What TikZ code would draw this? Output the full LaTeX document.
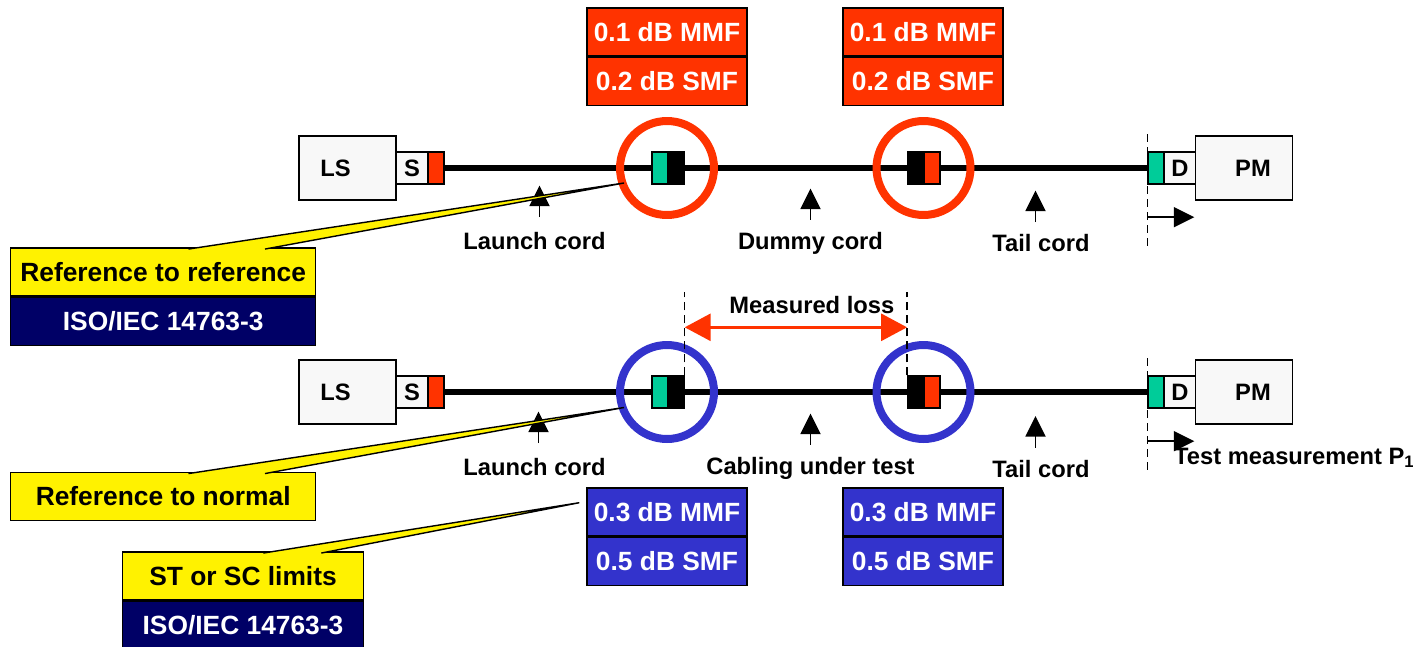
\documentclass[tikz,border=0pt]{standalone}
\usepackage{fontspec}
\setmainfont{Liberation Sans}
\usepackage{xcolor}
\usetikzlibrary{arrows.meta,positioning}

\definecolor{plugred}{HTML}{FF3300}
\definecolor{pluggreen}{HTML}{00CC99}
\definecolor{ringblue}{HTML}{3333CC}
\definecolor{isonavy}{HTML}{000066}
\definecolor{boxgray}{HTML}{F8F8F8}
\newcommand{\lblfont}{\fontsize{13.5}{16}\selectfont\bfseries}
\newcommand{\tagfont}{\fontsize{15}{18}\selectfont\bfseries}

\begin{document}
\begin{tikzpicture}[x=0.02cm, y=-0.02cm,
        unitbox/.style={draw, fill=boxgray, line width=0.8pt, minimum width=1.94cm, minimum height=1.28cm, inner sep=0pt, font=\lblfont},
        portbox/.style={draw, fill=boxgray, line width=0.8pt, minimum width=0.64cm, minimum height=0.64cm, inner sep=0pt, font=\lblfont},
        plugbox/.style={draw, line width=0.8pt, minimum width=0.32cm, minimum height=0.64cm, inner sep=0pt},
        fibre/.style={line width=0.12cm},
        ringmark/.style={circle, draw, line width=0.16cm, minimum size=1.88cm, inner sep=0pt},
        losstag/.style={draw, line width=0.8pt, text=white, font=\tagfont, minimum width=3.2cm, minimum height=0.96cm, inner sep=0pt},
        notebox/.style={draw, fill=yellow, line width=0.8pt, font=\tagfont, minimum height=0.96cm, inner sep=0pt},
        isobox/.style={draw, fill=isonavy, text=white, line width=0.8pt, font=\tagfont, minimum height=0.96cm, inner sep=0pt},
        wedge/.style={draw, fill=yellow, line width=0.8pt},
        cordlabel/.style={font=\lblfont, anchor=base},
        pointer/.style={line width=1.1pt, -{Triangle[length=0.41cm,width=0.4cm]}},
        guide/.style={line width=0.8pt, dash pattern=on 0.16cm off 0.1cm},
        lossarrow/.style={plugred, line width=0.06cm, {Triangle[length=0.52cm,width=0.54cm]}-{Triangle[length=0.52cm,width=0.54cm]}}]
        \useasboundingbox (0,0) rectangle (1413,646);

        % reference to reference
        \node[unitbox] (ls1) at (347.5,168) {\hspace*{-0.48cm}LS};
        \node[portbox] (s1) at (412,168) {S};
        \node[plugbox, fill=plugred] (rp1) at (436,168) {};
        \node[plugbox, fill=pluggreen] (gp1) at (660,168) {};
        \node[plugbox, fill=black] (bp1) at (676,168) {};
        \node[plugbox, fill=black] (bp2) at (915.75,168) {};
        \node[plugbox, fill=plugred] (rp2) at (932,168) {};
        \node[plugbox, fill=pluggreen] (gd1) at (1156,168) {};
        \node[portbox] (d1) at (1180,168) {D};
        \node[unitbox] (pm1) at (1244,168) {\hspace*{0.36cm}PM};

        \draw[fibre] (rp1.east) -- (gp1.west);
        \draw[fibre] (bp1.east) -- (bp2.west);
        \draw[fibre] (rp2.east) -- (gd1.west);

        \node[ringmark, draw=plugred] (ring1) at (667,168) {};
        \node[ringmark, draw=plugred] (ring2) at (923.5,168) {};

        \node[losstag, fill=plugred] (mmf1) at (667,32) {0.1 dB MMF};
        \node[losstag, fill=plugred, below=0pt of mmf1] (smf1) {0.2 dB SMF};
        \node[losstag, fill=plugred] (mmf2) at (923,32) {0.1 dB MMF};
        \node[losstag, fill=plugred, below=0pt of mmf2] (smf2) {0.2 dB SMF};

        \node[cordlabel] (lc1) at (534.5,249) {Launch cord};
        \node[cordlabel] (dc) at (810.5,249) {Dummy cord};
        \node[cordlabel] (tc1) at (1041,251.5) {Tail cord};
        \draw[pointer] ([xshift=0.1cm,yshift=0.17cm]lc1.north) -- ++(0,-31.5);
        \draw[pointer] ([yshift=0.12cm]dc.north) -- ++(0,-31);
        \draw[pointer] ([xshift=-0.11cm,yshift=0.12cm]tc1.north) -- ++(0,-31.5);

        \draw[guide] ([yshift=0.34cm]gd1.north west) -- ([yshift=-1.28cm]gd1.south west);
        \draw[pointer] ([yshift=-0.65cm]gd1.south west) -- ++(47,0);

        \node[notebox, minimum width=6.1cm] (refref) at (163.2,272) {Reference to reference};
        \node[isobox, minimum width=6.1cm, below=0pt of refref] (iso1) {ISO/IEC 14763-3};
        \coordinate (tip1) at (624,183);
        \filldraw[wedge] ([xshift=3.57cm,yshift=-1pt]refref.north west) -- (tip1) -- ([xshift=5.1cm,yshift=-1pt]refref.north west);

        % reference to normal
        \node[unitbox] (ls2) at (347.5,392) {\hspace*{-0.48cm}LS};
        \node[portbox] (s2) at (412,392) {S};
        \node[plugbox, fill=plugred] (rp3) at (436,392) {};
        \node[plugbox, fill=pluggreen] (gp3) at (660,392) {};
        \node[plugbox, fill=black] (bp3) at (676,392) {};
        \node[plugbox, fill=black] (bp4) at (915.75,392) {};
        \node[plugbox, fill=plugred] (rp4) at (932,392) {};
        \node[plugbox, fill=pluggreen] (gd2) at (1156,392) {};
        \node[portbox] (d2) at (1180,392) {D};
        \node[unitbox] (pm2) at (1244,392) {\hspace*{0.36cm}PM};

        \draw[fibre] (rp3.east) -- (gp3.west);
        \draw[fibre] (bp3.east) -- (bp4.west);
        \draw[fibre] (rp4.east) -- (gd2.west);

        \node[ringmark, draw=ringblue] (ring3) at (667,392) {};
        \node[ringmark, draw=ringblue] (ring4) at (923.5,392) {};

        \node[losstag, fill=ringblue] (mmf3) at (667,512) {0.3 dB MMF};
        \node[losstag, fill=ringblue, below=0pt of mmf3] (smf3) {0.5 dB SMF};
        \node[losstag, fill=ringblue] (mmf4) at (923,512) {0.3 dB MMF};
        \node[losstag, fill=ringblue, below=0pt of mmf4] (smf4) {0.5 dB SMF};

        \draw[guide] (bp3.north east) -- ++(0,-83);
        \draw[guide] (bp4.north west) -- ++(0,-83);
        \draw[lossarrow] ([yshift=0.96cm]bp3.north east) -- node[above=0.13cm, xshift=0.32cm, font=\lblfont, text=black] {Measured loss} ([yshift=0.96cm]bp4.north west);

        \node[cordlabel] (lc2) at (534.5,475) {Launch cord};
        \node[cordlabel] (cut) at (810.5,474) {Cabling under test};
        \node[cordlabel] (tc2) at (1041,477) {Tail cord};
        \draw[pointer] ([xshift=0.08cm,yshift=0.17cm]lc2.north) -- ++(0,-31.5);
        \draw[pointer] ([yshift=0.12cm]cut.north) -- ++(0,-31);
        \draw[pointer] ([xshift=-0.11cm,yshift=0.12cm]tc2.north) -- ++(0,-31.5);

        \draw[guide] ([yshift=0.34cm]gd2.north west) -- ([yshift=-1.28cm]gd2.south west);
        \draw[pointer] ([yshift=-0.65cm]gd2.south west) -- ++(47,0);
        \node[cordlabel, anchor=base west] (tm) at (1168,464) {Test measurement P\textsubscript{1}};

        \node[notebox, minimum width=6.1cm] (refnorm) at (163.2,496.5) {Reference to normal};
        \coordinate (tip2) at (624,407.5);
        \filldraw[wedge] ([xshift=3.57cm,yshift=-1pt]refnorm.north west) -- (tip2) -- ([xshift=5.1cm,yshift=-1pt]refnorm.north west);

        \node[notebox, minimum width=4.82cm] (stsc) at (243,576) {ST or SC limits};
        \node[isobox, minimum width=4.82cm, below=0pt of stsc] (iso2) {ISO/IEC 14763-3};
        \coordinate (tip3) at (579.3,502.7);
        \filldraw[wedge] ([xshift=2.83cm,yshift=-1pt]stsc.north west) -- (tip3) -- ([xshift=3.99cm,yshift=-1pt]stsc.north west);
\end{tikzpicture}
\end{document}
